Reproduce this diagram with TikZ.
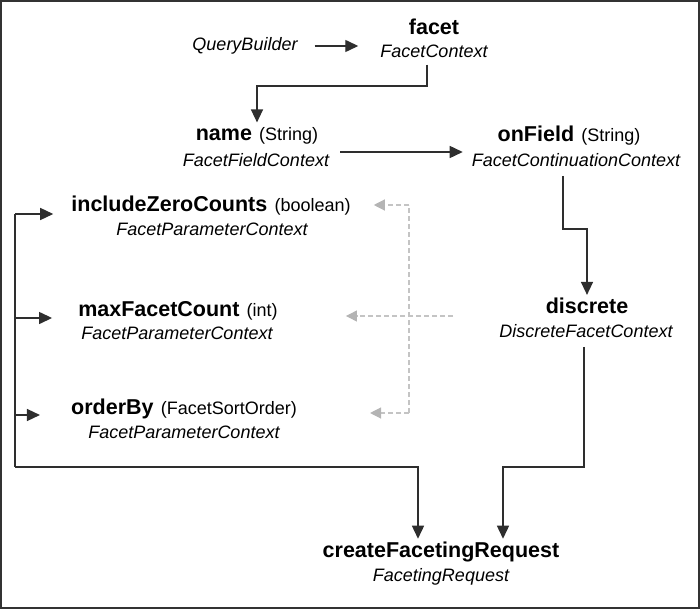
\documentclass[tikz,border=0pt]{standalone}
\usepackage{fontspec}
\setmainfont{Liberation Sans}
\usetikzlibrary{arrows.meta,calc}
\definecolor{lineclr}{HTML}{2E2E2E}
\definecolor{frameclr}{HTML}{333333}
\definecolor{dashclr}{HTML}{C4C4C4}
\definecolor{dashtip}{HTML}{B4B4B4}
\newcommand\dgTitle[1]{{\fontsize{21.5}{24}\selectfont\bfseries #1}}
\newcommand\dgParam[1]{{\fontsize{18}{21}\selectfont\hspace{0.4em}#1}}
\begin{document}
\begin{tikzpicture}[x=1pt,y=-1pt,
  titlenode/.style={inner sep=3pt, anchor=center},
  typenode/.style={inner sep=3pt, anchor=center, font=\fontsize{18}{21}\selectfont\itshape},
  arr/.style={draw=lineclr, line width=1.4pt, -{Triangle[length=13pt,width=12pt]}},
  plainline/.style={draw=lineclr, line width=1.4pt},
  dline/.style={draw=dashclr, line width=1.2pt, dash pattern=on 5pt off 3pt},
  darr/.style={dline, -{Triangle[length=11pt,width=11pt,fill=dashtip,color=dashtip]}}
]
\useasboundingbox (0,0) rectangle (700,609);
\draw[frameclr, line width=2pt] (1,1) rectangle (699,608);

% nodes
\node[typenode] (qb) at (245,46) {QueryBuilder};
\node[titlenode] (facet) at (434,27) {\dgTitle{facet}};
\node[typenode] (facetT) at (434,51) {FacetContext};
\node[titlenode] (name) at (257,136) {\dgTitle{name}\dgParam{(String)}};
\node[typenode] (nameT) at (256,160) {FacetFieldContext};
\node[titlenode] (onField) at (569,136) {\dgTitle{onField}\dgParam{(String)}};
\node[typenode] (onFieldT) at (576,160) {FacetContinuationContext};
\node[titlenode] (izc) at (211,206) {\dgTitle{includeZeroCounts}\dgParam{(boolean)}};
\node[typenode] (izcT) at (212,229) {FacetParameterContext};
\node[titlenode] (mfc) at (178,311) {\dgTitle{maxFacetCount}\dgParam{(int)}};
\node[typenode] (mfcT) at (177,333) {FacetParameterContext};
\node[titlenode] (ob) at (184,409) {\dgTitle{orderBy}\dgParam{(FacetSortOrder)}};
\node[typenode] (obT) at (184,432) {FacetParameterContext};
\node[titlenode] (disc) at (587,306) {\dgTitle{discrete}};
\node[typenode] (discT) at (586,331) {DiscreteFacetContext};
\node[titlenode] (cfr) at (441,552) {\dgTitle{createFacetingRequest}};
\node[typenode] (cfrT) at (441,577) {FacetingRequest};

% bend points
\coordinate (b1) at (427,86);
\coordinate (b2) at (563,229);
\coordinate (b3) at (584,467);
\coordinate (L1) at (15,214);
\coordinate (L2) at (15,467);
\coordinate (d1) at (409,205);
\coordinate (d2) at (409,413);
\coordinate (d3) at (453,316);

% black connectors
\draw[arr, shorten <=14pt, shorten >=19pt] (qb.east) -- (qb.east -| facetT.west);
\draw[arr, shorten <=4pt, shorten >=2pt] (facetT.south -| b1) -- (b1) -| (name.north);
\draw[arr] ($(nameT.east)+(8,-8)$) -- ($(onFieldT.west)+(-6,-8)$);
\draw[arr, shorten <=6pt, shorten >=0pt] (onFieldT.south -| b2) -- (b2) -| (disc.north);
\draw[arr, shorten <=6pt] (discT.south -| b3) -- (b3) -| ($(cfr.north)+(62,0)$);
\draw[plainline] (L1) -- (L2);
\draw[arr] (L2) -| ($(cfr.north)+(-23,0)$);
\draw[arr, shorten >=15pt] (L1) -- (L1 -| izc.west);
\draw[arr, shorten >=23pt] (15,318) -- (15,318 -| mfc.west);
\draw[arr, shorten >=28pt] (15,415) -- (15,415 -| ob.west);

% dashed grey connectors
\draw[dline] (d2) -- (d1);
\draw[darr, shorten >=20pt] (d1) -- (d1 -| izc.east);
\draw[darr, shorten >=65pt] (d3) -- (d3 -| mfc.east);
\draw[darr, shorten >=70pt] (d2) -- (d2 -| ob.east);
\end{tikzpicture}
\end{document}
